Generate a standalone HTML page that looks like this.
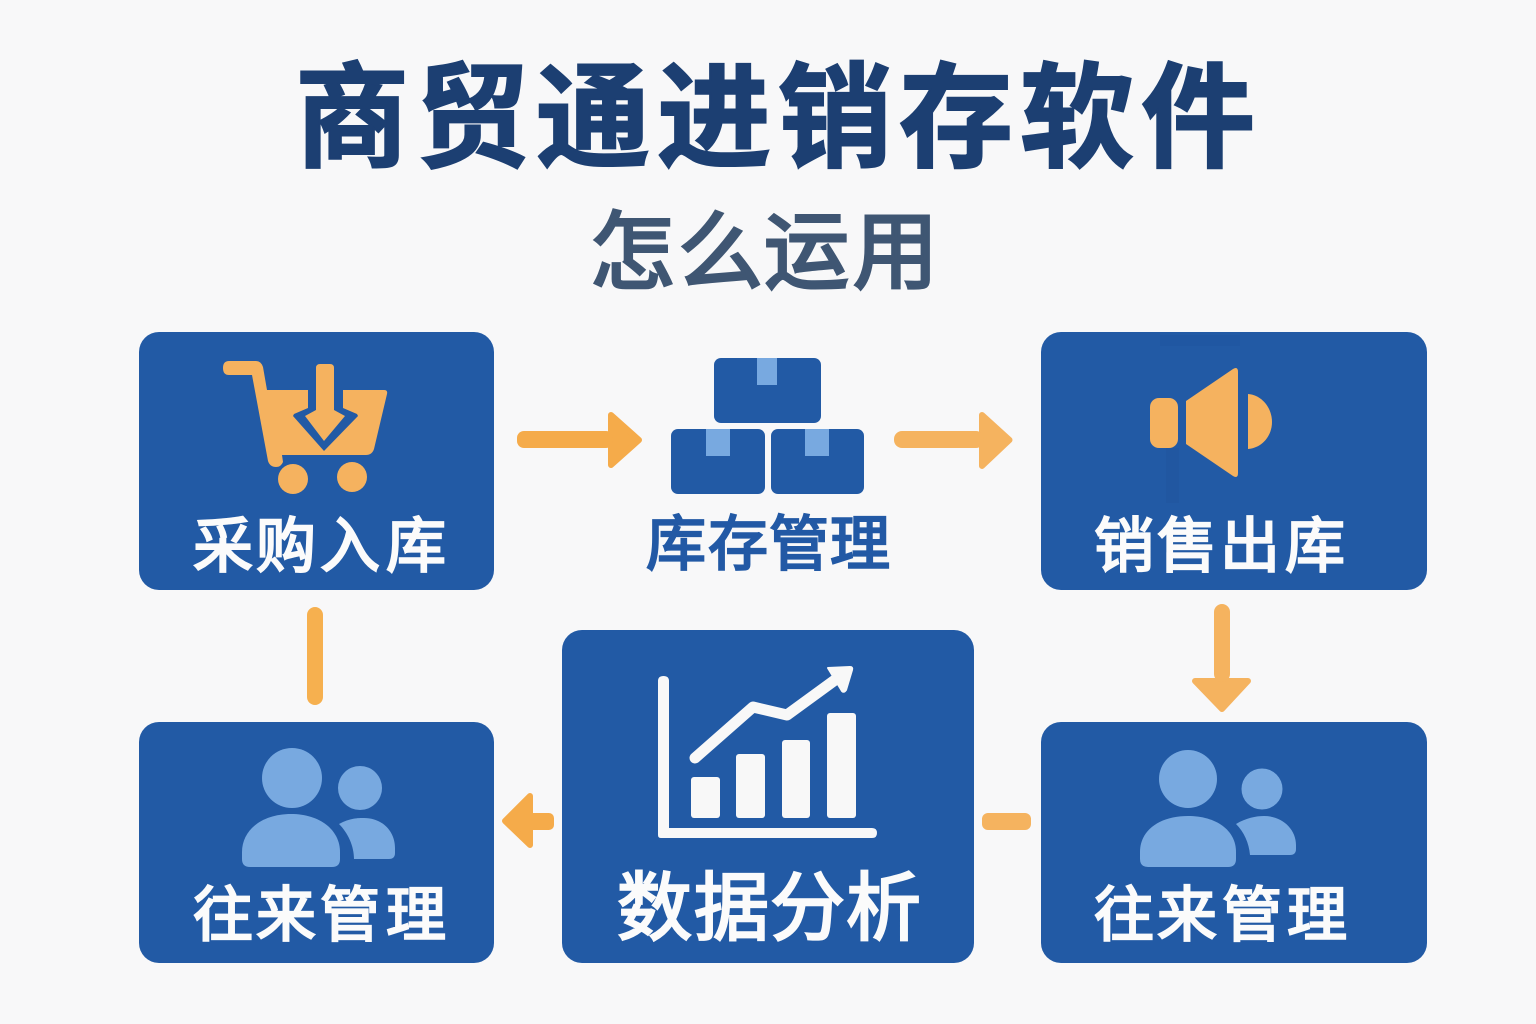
<!DOCTYPE html>
<html lang="zh">
<head>
<meta charset="utf-8">
<title>商贸通进销存软件</title>
<style>
html,body{margin:0;padding:0;background:#f8f8f8;width:1536px;height:1024px;overflow:hidden}
svg{display:block}
text{font-family:"Liberation Sans","Noto Sans CJK SC",sans-serif;font-weight:700}
text.m{font-weight:400}
</style>
</head>
<body>
<svg width="1536" height="1024" viewBox="0 0 1536 1024" xmlns="http://www.w3.org/2000/svg">
<rect width="1536" height="1024" fill="#f8f8f9"/>

<!-- Title -->
<text x="295 416 536 657 778 899 1020 1141" y="158" font-size="114" fill="#1c3f72" stroke="#1c3f72" stroke-width="2">商贸通进销存软件</text>
<text x="590 678 764 853" y="282" font-size="85" fill="#3f5673" stroke="#3f5673" stroke-width="3" class="m">怎么运用</text>

<!-- Nodes -->
<g fill="#225aa5">
<rect x="139" y="332" width="355" height="258" rx="20"/>
<rect x="1041" y="332" width="386" height="258" rx="20"/>
<rect x="139" y="722" width="355" height="241" rx="20"/>
<rect x="562" y="630" width="412" height="333" rx="20"/>
<rect x="1041" y="722" width="386" height="241" rx="20"/>
</g>

<!-- Labels -->
<g font-size="60" fill="#fbfbfb" stroke="#fbfbfb" stroke-width="2.2">
<text class="m" x="193 256 320 386" y="567">采购入库</text>
<text class="m" x="1094 1157 1220 1285" y="567">销售出库</text>
<text class="m" x="193 256 320 386" y="936">往来管理</text>
<text class="m" x="1094 1157 1222 1287" y="936">往来管理</text>
</g>
<text class="m" x="646 708 769 830" y="565" font-size="60" fill="#2259a5" stroke="#2259a5" stroke-width="2.2">库存管理</text>
<text class="m" x="617 694 770 846" y="934" font-size="75" fill="#fbfbfb" stroke="#fbfbfb" stroke-width="2.4">数据分析</text>

<!-- Cart -->
<path d="M229,361 L256,361 Q261,361 263,367 L267,390 L384,390 Q388,390 387,394 L374,449 Q372,455 366,455 L282,455 L283,462 Q281,467 276,467 Q270,467 268,461 L252,375 L229,375 Q223,375 223,368 Q223,361 229,361 Z" fill="#f5b25f"/>
<circle cx="293" cy="479" r="15" fill="#f5b25f"/>
<circle cx="352" cy="477" r="15" fill="#f5b25f"/>
<path d="M308,385 L343,385 L343,408 L357,414 L358,416 L324,451 L293,416 L294,414 L308,408 Z" fill="#225aa5"/>
<path d="M316,368 Q316,364 320,364 L330,364 Q334,364 334,368 L334,410 L345,416 L324,441 L305,416 L316,410 Z" fill="#f5b25f"/>

<!-- Boxes -->
<g fill="#225aa5">
<rect x="714" y="358" width="107" height="65" rx="7"/>
<rect x="671" y="429" width="94" height="65" rx="7"/>
<rect x="771" y="429" width="93" height="65" rx="7"/>
</g>
<g fill="#78a9e0">
<rect x="757" y="358" width="20" height="27"/>
<rect x="706" y="429" width="24" height="27"/>
<rect x="805" y="429" width="24" height="27"/>
</g>

<!-- Speaker -->
<rect x="1166" y="448" width="13" height="55" fill="#1f549c" opacity=".35"/>
<rect x="1160" y="335" width="80" height="11" fill="#1f549c" opacity=".3"/>
<rect x="1150" y="398" width="28" height="50" rx="9" fill="#f5b25f"/>
<path d="M1186,401 L1233,369 Q1238,366 1238,372 L1238,473 Q1238,479 1233,476 L1186,444 Z" fill="#f5b25f"/>
<path d="M1248,394 C1262,395 1272,408 1272,422 C1272,436 1262,448 1248,449 Z" fill="#f5b25f"/>

<!-- Chart -->
<g fill="#f8f8f8">
<path d="M658,681 Q658,676 663.500,676 Q669,676 669,681 L669,828 L872,828 Q877,828 877,833 Q877,838 872,838 L661,838 Q658,838 658,835 Z"/>
<rect x="691" y="777" width="29" height="41" rx="3"/>
<rect x="736" y="754" width="29" height="64" rx="3"/>
<rect x="782" y="740" width="28" height="78" rx="3"/>
<rect x="827" y="713" width="29" height="105" rx="3"/>
<path d="M828,668 L850,667 Q853,667 852,670 L846,690 Q844,693 842,691 Z" stroke="#f8f8f8" stroke-width="2" stroke-linejoin="round"/>
</g>
<path d="M695,758 L753,707 L787,715 L835,680" fill="none" stroke="#f8f8f8" stroke-width="11" stroke-linecap="round" stroke-linejoin="round"/>

<!-- Users left -->
<g fill="#78a9e0">
<circle cx="292" cy="778" r="30"/>
<circle cx="360" cy="788" r="22"/>
<path d="M242,852 C242,830 262,814 291,814 C320,814 340,830 340,852 L340,859 Q340,867 332,867 L250,867 Q242,867 242,859 Z"/>
<path d="M339,824 C350,818 358,818 364,818 C382,818 395,831 395,848 L395,853 Q395,859 389,859 L354,859 C354,846 348,833 339,824 Z"/>
</g>
<!-- Users right -->
<g fill="#78a9e0">
<circle cx="1188" cy="779" r="29"/>
<circle cx="1262" cy="789" r="20.500"/>
<path d="M1140,852 C1140,830 1160,816 1188,816 C1216,816 1236,830 1236,852 L1236,859 Q1236,867 1228,867 L1148,867 Q1140,867 1140,859 Z"/>
<path d="M1236,824 C1246,818 1256,816 1264,816 C1282,816 1296,829 1296,845 L1296,849 Q1296,855 1290,855 L1250,855 C1249,843 1244,832 1236,824 Z"/>
</g>

<!-- Arrows -->
<g stroke-linejoin="round" stroke-width="6">
<g fill="#f5ab4a" stroke="#f5ab4a">
<path d="M611,415 L639,440 L611,465 Z"/>
<path d="M505,821 L530,796 L530,845 Z"/>
</g>
<g fill="#f5b35f" stroke="#f5b35f">
<path d="M982,415 L1009.500,440 L982,466 Z"/>
<path d="M1195,681 L1248,681 L1222,709 Z"/>
</g>
</g>
<rect x="517" y="431" width="96" height="17" rx="7" fill="#f5ab4a"/>
<rect x="527" y="813" width="27" height="17" rx="5" fill="#f5ab4a"/>
<rect x="894" y="431" width="90" height="17" rx="8" fill="#f5b35f"/>
<rect x="1214" y="604" width="16" height="78" rx="8" fill="#f5b35f"/>
<rect x="307" y="607" width="16" height="98" rx="8" fill="#f6b04f"/>
<rect x="982" y="813" width="49" height="17" rx="6" fill="#f5b35f"/>
</svg>
</body>
</html>
